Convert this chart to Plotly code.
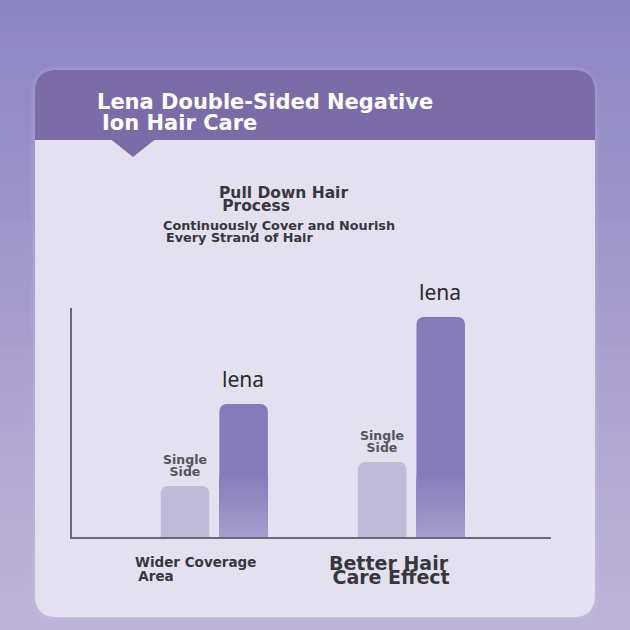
import plotly.graph_objects as go

# ---- data ----
categories = ["Wider Coverage Area", "Better Hair Care Effect"]
single_side = [51, 75]
lena = [133, 220]
series_names = ["Single Side", "lena"]

W = H = 630

def px(x):
    return x / W

def py(y):
    return 1 - y / H

def lerp_rgb(c1, c2, t):
    return "rgb(%d,%d,%d)" % tuple(round(a + (b - a) * t) for a, b in zip(c1, c2))

shapes = []
# page background gradient
top_c, bot_c = (141, 133, 195), (190, 180, 216)
N = 40
for i in range(N):
    shapes.append(dict(type="rect", xref="paper", yref="paper", layer="below",
                       x0=0, x1=1, y0=py(H * (i + 1) / N) - 0.002, y1=py(H * i / N),
                       fillcolor=lerp_rgb(top_c, bot_c, i / (N - 1)), line_width=0))

def rounded_path(x0, y0, x1, y1, rt, rb):
    def P(x, y):
        return "%.5f,%.5f" % (px(x), py(y))
    d = "M" + P(x0 + rt, y0)
    d += " L" + P(x1 - rt, y0)
    d += " Q" + P(x1, y0) + " " + P(x1, y0 + rt)
    d += " L" + P(x1, y1 - rb)
    d += " Q" + P(x1, y1) + " " + P(x1 - rb, y1)
    d += " L" + P(x0 + rb, y1)
    d += " Q" + P(x0, y1) + " " + P(x0, y1 - rb)
    d += " L" + P(x0, y0 + rt)
    d += " Q" + P(x0, y0) + " " + P(x0 + rt, y0)
    return d + " Z"

# soft glow
for k, a in [(4, 0.05), (2, 0.07)]:
    shapes.append(dict(type="path", xref="paper", yref="paper", layer="below",
                       path=rounded_path(35 - k, 70 - k, 595 + k, 617 + k, 22 + k, 22 + k),
                       fillcolor="rgba(235,230,250,%.2f)" % a, line_width=0))
# card body
shapes.append(dict(type="path", xref="paper", yref="paper", layer="below",
                   path=rounded_path(35, 110, 595, 617, 0, 22),
                   fillcolor="#e3e0f0", line_width=0))
# header
shapes.append(dict(type="path", xref="paper", yref="paper", layer="below",
                   path=rounded_path(35, 70, 595, 140, 22, 0),
                   fillcolor="#7b6ca8", line_width=0))
# pointer triangle
shapes.append(dict(type="path", xref="paper", yref="paper", layer="below",
                   path="M%.5f,%.5f L%.5f,%.5f L%.5f,%.5f Z" % (
                       px(111), py(139.5), px(155), py(139.5), px(133), py(157)),
                   fillcolor="#7b6ca8", line_width=0))

# bar geometry (category units)
BAR_W = 0.246
SINGLE_OFF = -0.1485 - BAR_W / 2
LENA_OFF = 0.1485 - BAR_W / 2

fig = go.Figure()
fig.add_trace(go.Bar(x=categories, y=single_side, name=series_names[0],
                     width=BAR_W, offset=SINGLE_OFF,
                     marker=dict(color="#c0bad9", cornerradius=7, line_width=0)))
fig.add_trace(go.Bar(x=categories, y=lena, name=series_names[1],
                     width=BAR_W, offset=LENA_OFF,
                     marker=dict(color="#857bb9", cornerradius=7, line_width=0)))
# gradient fade at the bottom of the lena bars (overlaid bands)
FADE = 62
STEPS = 14
base_c, light_c = (133, 123, 185), (165, 157, 205)
for j in range(1, STEPS + 1):
    frac = 1 - (j - 1) / STEPS
    fig.add_trace(go.Bar(x=categories, y=[min(v, FADE * frac) for v in lena],
                         width=BAR_W, offset=LENA_OFF, showlegend=False, hoverinfo="skip",
                         marker=dict(color=lerp_rgb(base_c, light_c, j / STEPS), line_width=0)))

annotations = []
bold = "DejaVu Sans"
dark = "#38373d"

def two_lines(l1, l2, indent, size, spacing):
    s = '<span style="font-size:%spx"><b>%s</b></span>'
    return s % (size, l1) + "<br>" + "&nbsp;" * indent + s % (size, l2), spacing / 1.3

def block(l1, l2, indent, x, ytop, size, spacing, color=dark):
    t, base = two_lines(l1, l2, indent, size, spacing)
    return dict(text=t, x=px(x), y=py(ytop), xanchor="left", yanchor="top", align="left",
                xref="paper", yref="paper", showarrow=False, borderpad=0,
                font=dict(family=bold, size=base, color=color))

annotations += [
    block("Lena Double-Sided Negative", "Ion Hair Care", 1, 96, 89, 21, 20.5, "white"),
    block("Pull Down Hair", "Process", 1, 218, 183, 15.5, 13),
    block("Continuously Cover and Nourish", "Every Strand of Hair", 1, 162, 217, 12.8, 12.3),
    block("Wider Coverage", "Area", 1, 134, 553, 13.5, 13.5),
    block("Better Hair", "Care Effect", 1, 328, 551, 19, 14.2),
]

# bar labels
for cat, v in zip(categories, single_side):
    t, base = two_lines("Single", "Side", 0, 12.5, 12)
    annotations.append(dict(x=cat, y=v, xref="x", yref="y", xshift=-29, yshift=6,
                            text=t, showarrow=False, yanchor="bottom", borderpad=0,
                            font=dict(family=bold, size=base, color="#55545e")))
for cat, v in zip(categories, lena):
    annotations.append(dict(x=cat, y=v, xref="x", yref="y", xshift=29, yshift=10,
                            text="lena", showarrow=False, yanchor="bottom", borderpad=0,
                            font=dict(family="Noto Sans", size=21, color="#2a2a2e")))

fig.update_layout(
    width=W, height=H, autosize=False,
    margin=dict(l=0, r=0, t=0, b=0),
    paper_bgcolor="#a79dcf", plot_bgcolor="rgba(0,0,0,0)",
    showlegend=False,
    barmode="overlay",
    shapes=shapes, annotations=annotations,
    xaxis=dict(domain=[px(72), px(551)], range=[-0.722, 1.708], showline=True, linecolor="#6a6878",
               linewidth=1.5, showticklabels=False, ticks="", showgrid=False, zeroline=False, fixedrange=True),
    yaxis=dict(domain=[py(537), py(308)], range=[0, 229], showline=True, linecolor="#6a6878",
               linewidth=1.5, showticklabels=False, ticks="", showgrid=False, zeroline=False, fixedrange=True),
)
fig.write_html("out.html")
